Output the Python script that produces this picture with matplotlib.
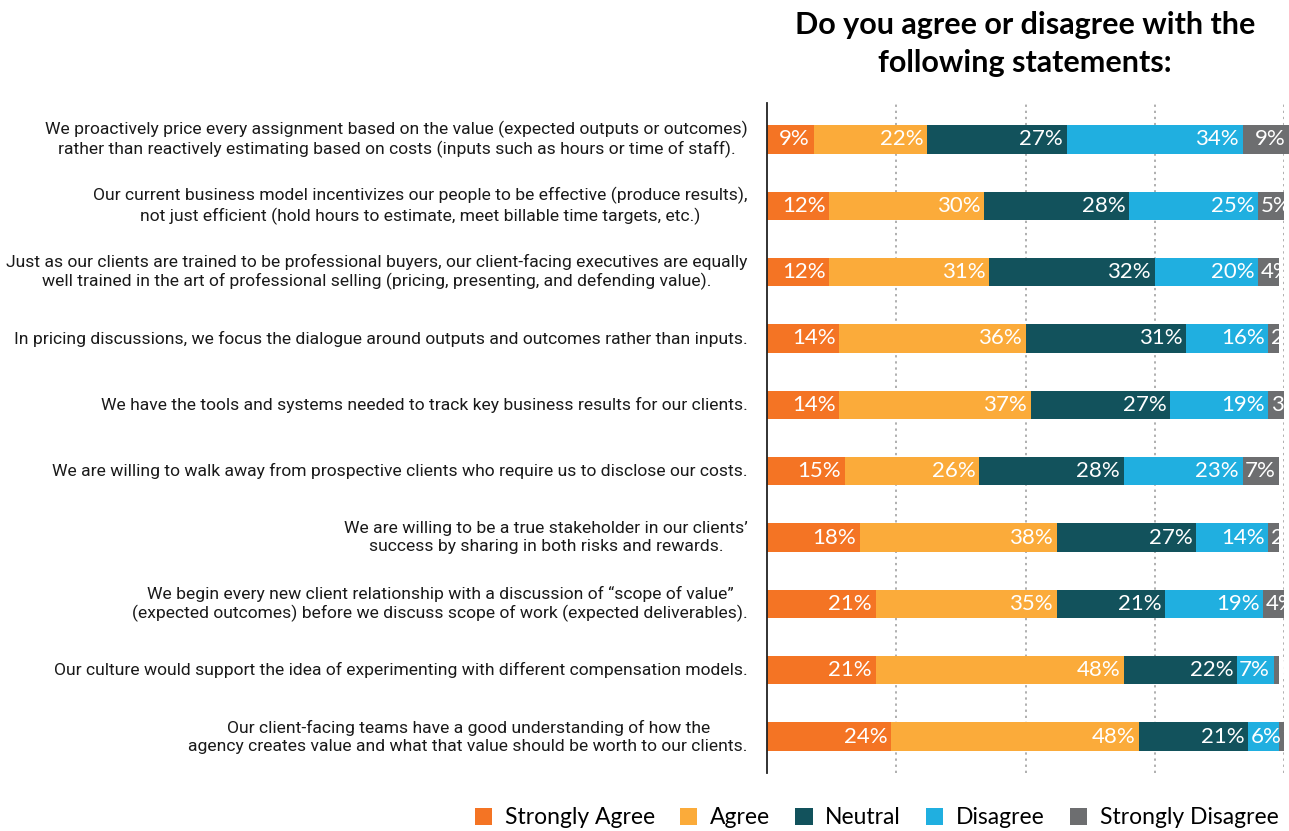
import numpy as np
import matplotlib.pyplot as plt
from matplotlib.patches import Patch

statements = [
    "We proactively price every assignment based on the value (expected outputs or outcomes)\n"
    "rather than reactively estimating based on costs (inputs such as hours or time of staff).",
    "Our current business model incentivizes our people to be effective (produce results),\n"
    "not just efficient (hold hours to estimate, meet billable time targets, etc.)",
    "Just as our clients are trained to be professional buyers, our client-facing executives are equally\n"
    "well trained in the art of professional selling (pricing, presenting, and defending value).",
    "In pricing discussions, we focus the dialogue around outputs and outcomes rather than inputs.",
    "We have the tools and systems needed to track key business results for our clients.",
    "We are willing to walk away from prospective clients who require us to disclose our costs.",
    "We are willing to be a true stakeholder in our clients\u2019\n"
    "success by sharing in both risks and rewards.",
    "We begin every new client relationship with a discussion of \u201cscope of value\u201d\n"
    "(expected outcomes) before we discuss scope of work (expected deliverables).",
    "Our culture would support the idea of experimenting with different compensation models.",
    "Our client-facing teams have a good understanding of how the\n"
    "agency creates value and what that value should be worth to our clients.",
]

responses = ["Strongly Agree", "Agree", "Neutral", "Disagree", "Strongly Disagree"]
strongly_agree = [9, 12, 12, 14, 14, 15, 18, 21, 21, 24]
agree = [22, 30, 31, 36, 37, 26, 38, 35, 48, 48]
neutral = [27, 28, 32, 31, 27, 28, 27, 21, 22, 21]
disagree = [34, 25, 20, 16, 19, 23, 14, 19, 7, 6]
strongly_disagree = [9, 5, 4, 2, 3, 7, 2, 4, 1, 1]

colors = ["#f47424", "#fbab3a", "#12525c", "#20afe0", "#6d6e70"]

LABEL_FONT = ["Roboto", "DejaVu Sans"]
MAIN_FONT = ["Lato", "DejaVu Sans"]

W, H = 1289, 831
fig = plt.figure(figsize=(W / 100, H / 100), dpi=100)
ax = fig.add_axes([767 / W, 1 - 773 / H, 517 / W, 670 / H])

series = [strongly_agree, agree, neutral, disagree, strongly_disagree]
y = np.arange(len(statements))
left = np.zeros(len(statements))
for vals, color, name in zip(series, colors, responses):
    vals = np.array(vals, dtype=float)
    bars = ax.barh(y, vals, left=left, height=0.43, color=color,
                   edgecolor="none", label=name, clip_on=False)
    for bar, v, l in zip(bars, vals, left):
        # small segments start the label on the left and get cut off
        if v <= 6:
            tx, ha = l + 0.5, "left"
        else:
            tx, ha = l + v - 0.7, "right"
        t = ax.text(tx, bar.get_y() + bar.get_height() / 2, f"{int(v)}%",
                    ha=ha, va="center", color="white", fontsize=16,
                    family=MAIN_FONT)
        t.set_clip_path(bar)
    left += vals

ax.set_xlim(0, 100)
ax.set_ylim(len(statements) - 0.45, -0.55)

for gx in [25, 50, 75, 100]:
    ax.axvline(gx, color="#9a9a9a", linestyle=(0, (1.5, 2.5)), linewidth=1.1,
               zorder=0)

for i, s in enumerate(statements):
    ax.text(-0.037, i, s, transform=ax.get_yaxis_transform(), ha="right",
            va="center", multialignment="center", fontsize=12.6,
            family=LABEL_FONT, color="#1a1a1a", linespacing=1.25)

ax.set_xticks([])
ax.set_yticks([])
for side in ["top", "right", "bottom"]:
    ax.spines[side].set_visible(False)
ax.spines["left"].set_color("#222222")
ax.spines["left"].set_linewidth(1.3)

fig.text(1025 / W, 1 - 44 / H, "Do you agree or disagree with the\nfollowing statements:",
         ha="center", va="center", fontsize=22, fontweight="bold",
         family=MAIN_FONT, linespacing=1.4)

handles = [Patch(facecolor=c, edgecolor="none") for c in colors]
fig.legend(handles, responses, loc="center right",
           bbox_to_anchor=(1299 / W, 1 - 818 / H), ncol=5, frameon=False,
           handlelength=0.75, handleheight=0.75, handletextpad=0.55,
           columnspacing=1.1, prop={"family": MAIN_FONT, "size": 16.5})

fig.savefig("out.png", dpi=100)
